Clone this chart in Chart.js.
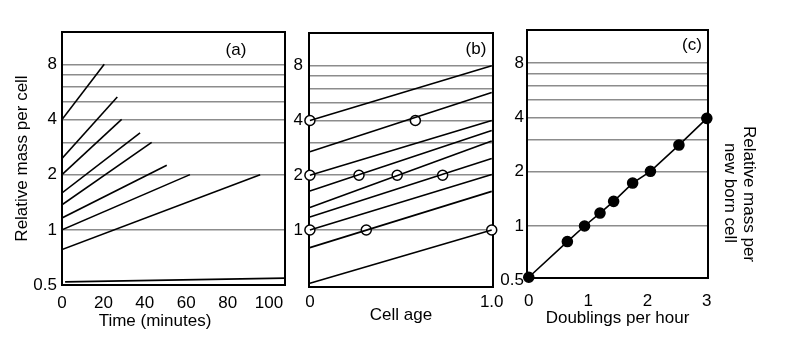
<!DOCTYPE html>
<html>
<head>
<meta charset="utf-8">
<script src="https://cdn.jsdelivr.net/npm/chart.js@4.4.0/dist/chart.umd.min.js"></script>
<style>
  body { margin: 0; background: #fff; }
  #wrap { position: relative; width: 785px; height: 361px; }
  canvas { position: absolute; left: 0; top: 0; }
</style>
</head>
<body>
<div id="wrap">
  <canvas id="chartA" width="785" height="361"></canvas>
  <canvas id="chartB" width="785" height="361"></canvas>
  <canvas id="chartC" width="785" height="361"></canvas>
</div>
<script>
// (a) mass per cell against time, one line per growth rate
const timeStart = [0, 0, 0, 0, 0, 0, 0, 0, 1.5];
const timeEnd = [20.4, 26.7, 28.8, 37.7, 43.3, 50.6, 61.8, 95.7, 107.7];
const massStartA = [4, 2.45, 2, 1.59, 1.37, 1.16, 1, 0.78, 0.52];
const massEndA = [8, 5.3, 4, 3.38, 3.0, 2.25, 2, 2, 0.545];
const timeTicks = [0, 20, 40, 60, 80, 100];

// (b) mass against cell age
const ageStart = [0, 0, 0, 0, 0, 0, 0, 0, 0];
const ageEnd = [1, 1, 1, 1, 1, 1, 1, 1, 1];
const massStartB = [4, 2.69, 2, 1.64, 1.33, 1.18, 1, 0.8, 0.51];
const massEndB = [8, 5.7, 4, 3.52, 3.08, 2.47, 2.02, 1.63, 1];
const circleAge = [0, 0.58, 0, 0.27, 0.48, 0.73, 0, 0.31, 1];
const circleMass = [4, 4, 2, 2, 2, 2, 1, 1, 1];
const ageTicks = [0, 1];

// (c) newborn mass against growth rate
const doublingsPerHour = [0, 0.65, 0.94, 1.2, 1.43, 1.75, 2.05, 2.53, 3];
const newbornMass = [0.52, 0.82, 1, 1.18, 1.37, 1.73, 2.01, 2.81, 3.95];
const rateTicks = [0, 1, 2, 3];

// shared y axis
const massTicks = [0.5, 1, 2, 3, 4, 5, 6, 7, 8];
const massLabels = [0.5, 1, 2, 4, 8];

Chart.defaults.font.family = '"Liberation Sans", Arial, sans-serif';
Chart.defaults.font.size = 17;
Chart.defaults.color = '#000';

const framePlugin = {
  id: 'frame',
  beforeDatasetsDraw(chart) {
    const { ctx, chartArea: a } = chart;
    ctx.save();
    ctx.strokeStyle = '#000';
    ctx.lineWidth = 2;
    ctx.strokeRect(a.left, a.top, a.right - a.left, a.bottom - a.top);
    ctx.restore();
  }
};

const notesPlugin = {
  id: 'notes',
  afterDraw(chart, args, opts) {
    const ctx = chart.ctx;
    (opts.items || []).forEach(it => {
      ctx.save();
      ctx.translate(it.x, it.y);
      ctx.rotate(it.rotation || 0);
      ctx.font = '17px "Liberation Sans", Arial, sans-serif';
      ctx.fillStyle = '#000';
      ctx.textAlign = 'center';
      ctx.textBaseline = 'middle';
      ctx.fillText(it.text, 0, 0);
      ctx.restore();
    });
  }
};

function lineSets(xs0, xs1, ys0, ys1) {
  return xs0.map((x, i) => ({
    data: [{ x: x, y: ys0[i] }, { x: xs1[i], y: ys1[i] }],
    showLine: true,
    borderColor: '#000',
    borderWidth: 1.6,
    pointRadius: 0
  }));
}

function yAxis(min, max, ticks, labels, width, pad, title) {
  return {
    type: 'logarithmic',
    min: min,
    max: max,
    afterBuildTicks: s => { s.ticks = ticks.map(v => ({ value: v })); },
    afterFit: s => { s.width = width; },
    ticks: {
      autoSkip: false,
      padding: pad,
      callback: v => labels.includes(v) ? String(v) : ''
    },
    grid: {
      drawTicks: false,
      lineWidth: 1.5,
      color: c => (c.tick && c.tick.value === 0.5) ? 'rgba(0,0,0,0)' : '#8c8c8c'
    },
    border: { display: false },
    title: title || { display: false }
  };
}

function xAxis(min, max, ticks, fmt, height, pad, title) {
  return {
    type: 'linear',
    min: min,
    max: max,
    afterBuildTicks: s => { s.ticks = ticks.map(v => ({ value: v })); },
    afterFit: s => { s.height = height; },
    ticks: { autoSkip: false, padding: pad, maxRotation: 0, callback: fmt },
    grid: { display: false, drawTicks: false },
    border: { display: false },
    title: title || { display: false }
  };
}

function baseOptions(padding, scales, notes) {
  return {
    responsive: false,
    animation: false,
    events: [],
    layout: { padding: padding },
    scales: scales,
    plugins: {
      legend: { display: false },
      tooltip: { enabled: false },
      notes: { items: notes }
    }
  };
}

// panel (a)
new Chart(document.getElementById('chartA'), {
  type: 'scatter',
  data: { datasets: lineSets(timeStart, timeEnd, massStartA, massEndA) },
  options: baseOptions(
    { left: 0, top: 32, right: 500, bottom: 0 },
    {
      x: xAxis(0, 107.7, timeTicks, v => String(v), 76, 8),
      y: yAxis(0.5, 12, massTicks, massLabels, 62, 5,
        { display: true, text: 'Relative mass per cell', padding: { top: 12, bottom: 0 } })
    },
    [
      { text: '(a)', x: 236, y: 50 },
      { text: 'Time (minutes)', x: 155, y: 321 }
    ]
  ),
  plugins: [framePlugin, notesPlugin]
});

// panel (b)
const setsB = lineSets(ageStart, ageEnd, massStartB, massEndB);
setsB.push({
  data: circleAge.map((a, i) => ({ x: a, y: circleMass[i] })),
  showLine: false,
  pointRadius: 5,
  pointBorderWidth: 1.5,
  pointBorderColor: '#000',
  pointBackgroundColor: '#fff',
  clip: false
});
new Chart(document.getElementById('chartB'), {
  type: 'scatter',
  data: { datasets: setsB },
  options: baseOptions(
    { left: 280, top: 33, right: 292, bottom: 0 },
    {
      x: xAxis(-0.005, 1.007, ageTicks, v => v === 0 ? '0' : v.toFixed(1), 74, 5,
        { display: true, text: 'Cell age', padding: { top: 0, bottom: 35 } }),
      y: yAxis(0.486, 12.1, massTicks.slice(1), massLabels.slice(1), 29, 6)
    },
    [{ text: '(b)', x: 476, y: 49 }]
  ),
  plugins: [framePlugin, notesPlugin]
});

// panel (c)
new Chart(document.getElementById('chartC'), {
  type: 'scatter',
  data: {
    datasets: [{
      data: doublingsPerHour.map((r, i) => ({ x: r, y: newbornMass[i] })),
      showLine: true,
      borderColor: '#000',
      borderWidth: 1.6,
      pointRadius: 5,
      pointBackgroundColor: '#000',
      pointBorderColor: '#000',
      clip: false
    }]
  },
  options: baseOptions(
    { left: 500, top: 30, right: 77, bottom: 0 },
    {
      x: xAxis(-0.03, 3.02, rateTicks, v => String(v), 83, 13,
        { display: true, text: 'Doublings per hour', padding: { top: 0, bottom: 32 } }),
      y: yAxis(0.515, 12.2, massTicks, massLabels, 27, 3)
    },
    [
      { text: '(c)', x: 692, y: 45 },
      { text: 'Relative mass per', x: 749, y: 194, rotation: Math.PI / 2 },
      { text: 'new born cell', x: 730, y: 193, rotation: Math.PI / 2 }
    ]
  ),
  plugins: [framePlugin, notesPlugin]
});
</script>
</body>
</html>
